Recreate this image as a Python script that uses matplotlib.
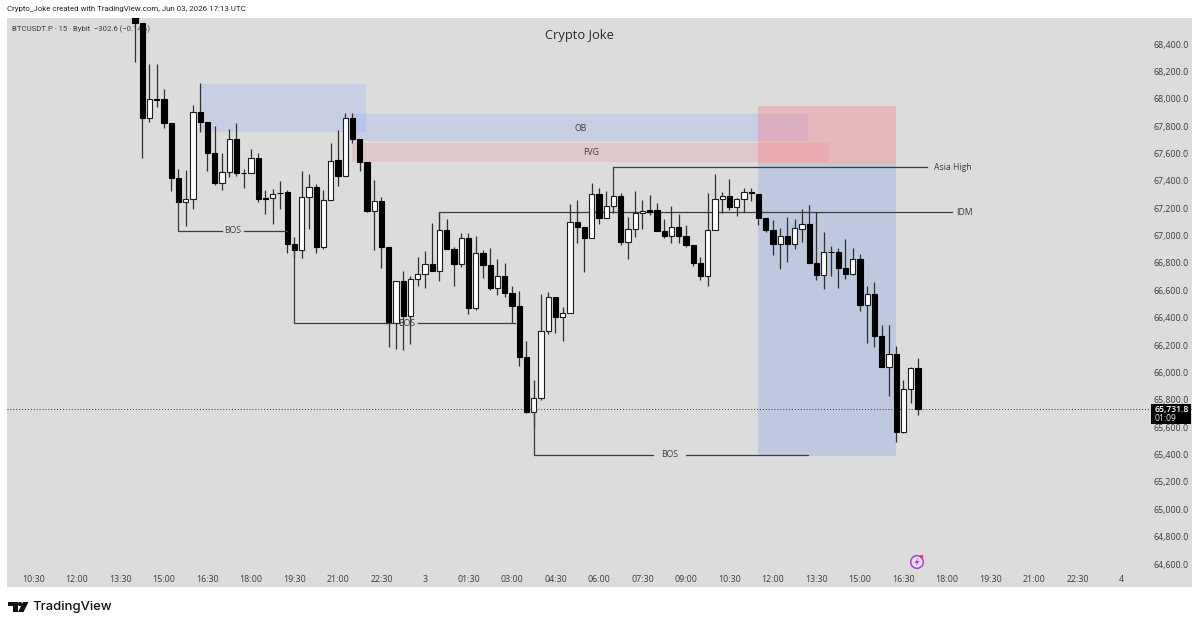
import numpy as np
import matplotlib
matplotlib.use("Agg")
import matplotlib.pyplot as plt
from matplotlib.patches import Rectangle, Circle, Polygon

plt.rcParams['font.family'] = ['Open Sans', 'DejaVu Sans']

# 15 minute BTCUSDT.P candles
opens = [68620, 68556, 67857, 67998, 67996, 67825, 67423, 67243, 67267, 67903,
         67832, 67601, 67382, 67467, 67704, 67460, 67460, 67569, 67272, 67272,
         67311, 67319, 66939, 66895, 67284, 67357, 66914, 67260, 67550, 67435,
         67857, 67704, 67536, 67183, 67253, 66914, 66359, 66666, 66412, 66685,
         66722, 66795, 66741, 67039, 66900, 66795, 66980, 66469, 66875, 66785,
         66615, 66707, 66578, 66488, 66115, 65713, 65815, 66303, 66551, 66403,
         66437, 67102, 67065, 66985, 67302, 67129, 67214, 67287, 66951, 67048,
         67163, 67187, 67187, 67034, 66997, 67061, 66995, 66931, 66802, 66707,
         67039, 67267, 67289, 67207, 67267, 67316, 67306, 67125, 67041, 66941,
         67000, 66936, 67050, 67085, 66802, 66712, 66882, 66882, 66761, 66722,
         66827, 66493, 66571, 66269, 66042, 66135, 65563, 65881, 66030]
highs = [68650, 68556, 68254, 68252, 68069, 67825, 67484, 67479, 67954, 68113,
         67832, 67803, 67601, 67779, 67821, 67489, 67631, 67601, 67333, 67338,
         67397, 67333, 66988, 67474, 67450, 67380, 67331, 67679, 67772, 67894,
         67894, 67704, 67536, 67403, 67280, 66914, 66666, 66744, 66705, 66841,
         66887, 67092, 67172, 67119, 66914, 67017, 67017, 66997, 66895, 66912,
         66827, 66798, 66632, 66595, 66232, 65945, 66573, 66590, 66551, 66480,
         67231, 67260, 67065, 67382, 67350, 67326, 67287, 67309, 67136, 67324,
         67260, 67294, 67236, 67119, 67216, 67158, 67075, 66931, 66841, 67313,
         67450, 67316, 67414, 67272, 67350, 67350, 67306, 67125, 67114, 67053,
         67136, 67119, 67194, 67224, 67170, 67024, 66924, 66907, 66977, 66907,
         66866, 66632, 66659, 66347, 66347, 66193, 65945, 66042, 66103]
lows = [68268, 67569, 67832, 67942, 67784, 67326, 67243, 67072, 67194, 67755,
        67472, 67370, 67333, 67430, 67438, 67346, 67457, 67248, 67158, 67085,
        67194, 66875, 66836, 66836, 67048, 66873, 66900, 67260, 67362, 67435,
        67679, 67472, 67175, 66895, 66765, 66188, 66171, 66164, 66208, 66632,
        66615, 66741, 66668, 66900, 66632, 66773, 66425, 66456, 66688, 66602,
        66566, 66549, 66359, 66049, 65704, 65594, 65799, 66279, 66286, 66230,
        66437, 66948, 66732, 66985, 67085, 67129, 67165, 66931, 66827, 66992,
        67046, 67150, 67034, 66980, 66948, 66948, 66914, 66780, 66676, 66632,
        67039, 67163, 67187, 67145, 67172, 67255, 67077, 67024, 66858, 66754,
        66807, 66900, 66951, 66802, 66676, 66608, 66705, 66619, 66683, 66712,
        66449, 66217, 66188, 66042, 65830, 65494, 65555, 65779, 65689]
closes = [68556, 67857, 67998, 67992, 67821, 67419, 67243, 67267, 67903, 67832,
          67601, 67382, 67467, 67704, 67455, 67457, 67569, 67265, 67270, 67306,
          67309, 66939, 66895, 67284, 67353, 66914, 67260, 67547, 67435, 67857,
          67704, 67536, 67183, 67254, 66914, 66359, 66666, 66412, 66685, 66722,
          66795, 66741, 67039, 66900, 66795, 66980, 66469, 66875, 66785, 66615,
          66707, 66578, 66488, 66115, 65713, 65815, 66303, 66551, 66403, 66437,
          67102, 67065, 66985, 67302, 67129, 67214, 67287, 66951, 67048, 67163,
          67177, 67172, 67034, 66997, 67061, 66995, 66931, 66802, 66707, 67039,
          67267, 67289, 67207, 67267, 67316, 67311, 67125, 67041, 66941, 67000,
          66936, 67053, 67085, 66802, 66712, 66882, 66879, 66761, 66722, 66827,
          66493, 66571, 66269, 66042, 66135, 65563, 65881, 66030, 65731.8]

time_labels = ['10:30', '12:00', '13:30', '15:00', '16:30', '18:00', '19:30', '21:00', '22:30',
               '3', '01:30', '03:00', '04:30', '06:00', '07:30', '09:00', '10:30', '12:00',
               '13:30', '15:00', '16:30', '18:00', '19:30', '21:00', '22:30', '4']
time_ticks = [-14 + 6 * n for n in range(len(time_labels))]
price_ticks = list(range(64600, 68600, 200))

last_price = 65731.8

# drawing tools: (start bar, end bar, top price, bottom price)
zone_sweep = (9, 31.9, 68108, 67757)
zone_ob = (30, 92.8, 67888, 67688)
zone_fvg = (30, 95.7, 67677, 67538)
zone_stop = (85.9, 105, 67947, 67523)
zone_target = (85.9, 105, 67523, 65389)

GRAY = '#dcdcdc'
TEXT = '#3a3a3a'

fig = plt.figure(figsize=(12, 6.27), dpi=100, facecolor='white')
ax = fig.add_axes([7 / 1200, 1 - 587 / 627, 1185 / 1200, 569 / 627], facecolor=GRAY)
ax.set_xlim(-17.655, 145.8)
ax.set_ylim(64432, 68590)
for s in ax.spines.values():
    s.set_visible(False)


def zone(z, color, alpha):
    ax.add_patch(Rectangle((z[0], z[3]), z[1] - z[0], z[2] - z[3], facecolor=color,
                           alpha=alpha, edgecolor='none', zorder=1))


zone(zone_sweep, '#90a8fc', 0.25)
zone(zone_ob, '#90a8fc', 0.25)
zone(zone_fvg, '#f07887', 0.2)
zone(zone_stop, '#fe757e', 0.35)
zone(zone_target, '#7b9de9', 0.3)

# candles
o = np.array(opens)
h = np.array(highs)
l = np.array(lows)
c = np.array(closes)
idx = np.arange(len(o))
up = c >= o
ax.vlines(idx, l, h, color='#303030', lw=0.9, zorder=3)
ax.bar(idx[up], (c - o)[up], bottom=o[up], width=0.72, color='white', edgecolor='#1a1a1a',
       linewidth=0.8, zorder=4)
ax.bar(idx[~up], (c - o)[~up], bottom=o[~up], width=0.72, color='black', edgecolor='black',
       linewidth=0.8, zorder=4)

# last price line
ax.axhline(last_price, color='#333333', lw=0.7, ls=(0, (1, 2)), zorder=2)

# structure lines
LINE = '#3c3c3c'
ax.plot([6, 6, 12], [67243, 67034, 67034], color=LINE, lw=0.9, zorder=5)
ax.plot([15, 21], [67034, 67034], color=LINE, lw=0.9, zorder=5)
ax.plot([22, 22, 35.8], [66900, 66361, 66361], color=LINE, lw=0.9, zorder=5)
ax.plot([39, 52.4], [66361, 66361], color=LINE, lw=0.9, zorder=5)
ax.plot([55, 55, 71.5], [65713, 65397, 65397], color=LINE, lw=0.9, zorder=5)
ax.plot([76, 92.8], [65397, 65397], color=LINE, lw=0.9, zorder=5)
ax.plot([42, 42, 112.7], [67039, 67172, 67172], color=LINE, lw=0.9, zorder=2)
ax.plot([66, 66, 109.2], [67287, 67501, 67501], color=LINE, lw=0.9, zorder=2)

labels = [('BOS', 13.5, 67034), ('BOS', 37.4, 66361), ('BOS', 73.8, 65397), ('OB', 61.4, 67780),
          ('FVG', 62.9, 67608), ('Asia High', 112.8, 67501), ('IDM', 114.4, 67172)]
for txt, bx, py in labels:
    ax.text(bx, py, txt, ha='center', va='center', fontsize=6.2, color=TEXT, zorder=6)

# axes labels sit inside the panel
ax.yaxis.tick_right()
ax.set_yticks(price_ticks)
ax.set_yticklabels([f'{p:,.1f}' for p in price_ticks], ha='right')
ax.set_xticks(time_ticks)
ax.set_xticklabels(time_labels)
ax.tick_params(axis='y', length=0, pad=-2.5, labelsize=6.4, labelcolor=TEXT)
ax.tick_params(axis='x', length=0, pad=-8.5, labelsize=6.4, labelcolor=TEXT)

# overlay in figure pixels for header, footer and badges
ov = fig.add_axes([0, 0, 1, 1], facecolor='none')
ov.set_xlim(0, 1200)
ov.set_ylim(627, 0)
ov.axis('off')

ov.text(7, 9, 'Crypto_Joke created with TradingView.com, Jun 03, 2026 17:13 UTC', fontsize=5.7,
        color='#222222', va='center', family='Roboto')
ax.text(0.0042, 0.981, 'BTCUSDT.P · 15 · Bybit  −302.6 (−0.14%)', transform=ax.transAxes, fontsize=5.6,
        color=TEXT, va='center', zorder=2, family='Roboto')
ov.text(579, 35, 'Crypto Joke', fontsize=9.3, color='#2a2a2a', ha='center', va='center')

# last price tag
ov.add_patch(Rectangle((1151, 404), 40, 20, facecolor='black', edgecolor='none'))
ov.text(1155, 409.5, f'{last_price:,.1f}', fontsize=6.2, color='white', va='center', fontweight='semibold')
ov.text(1155, 418.5, '01:09', fontsize=6.2, color='#e8e8e8', va='center')

# lightning badge
ov.add_patch(Circle((917, 562), 6.3, facecolor='#e8e0ee', edgecolor='#a93fd0', lw=1.1))
ov.add_patch(Polygon([[918.5, 557.5], [914.5, 563], [917, 563], [915.5, 566.5], [919.5, 561],
                      [917.2, 561]], facecolor='#a93fd0', edgecolor='none'))
ov.add_patch(Circle((921.5, 556.5), 1.7, facecolor='#f0304a', edgecolor='none'))

# footer logo
ov.add_patch(Polygon([[7.5, 602], [17.5, 602], [17.5, 612], [12.5, 612], [12.5, 606], [7.5, 606]],
                     facecolor='#111111', edgecolor='none'))
ov.add_patch(Circle((20, 604), 2.1, facecolor='#111111', edgecolor='none'))
ov.add_patch(Polygon([[23, 602], [28.5, 602], [23.5, 612], [18, 612]], facecolor='#111111', edgecolor='none'))
ov.text(32, 607, 'TradingView', fontsize=9.4, color='#111111', va='center', family='Inter', fontweight='medium')

fig.savefig('out.png', dpi=100, facecolor='white')
